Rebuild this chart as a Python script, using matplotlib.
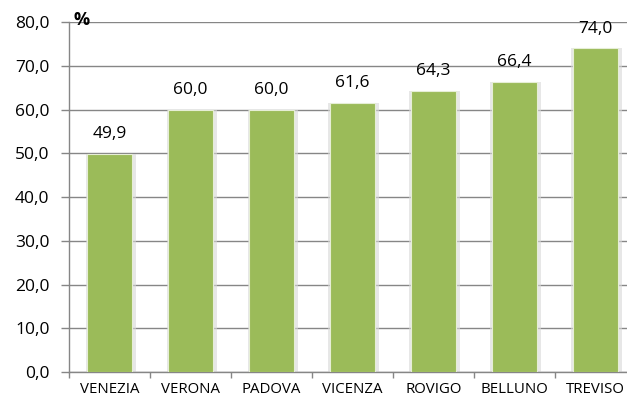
import matplotlib
matplotlib.use("Agg")
import matplotlib.pyplot as plt
import numpy as np

province = ["VENEZIA", "VERONA", "PADOVA", "VICENZA", "ROVIGO", "BELLUNO", "TREVISO"]
valori = [49.9, 60.0, 60.0, 61.6, 64.3, 66.4, 74.0]
yticks = [0, 10, 20, 30, 40, 50, 60, 70, 80]

plt.rcParams['font.family'] = ['Open Sans', 'DejaVu Sans']

fig = plt.figure(figsize=(6.27, 4.04), dpi=100)
ax = fig.add_axes([0.110, 0.079, 0.904, 0.8665])

x = np.arange(len(province))
# soft shadow behind the bars
ax.bar(x + 0.015, valori, width=0.62, color="#d8d8d8", alpha=0.6, zorder=2)
ax.bar(x, valori, width=0.55, color="#9BBB59", edgecolor="#e6eed6", linewidth=0.8, zorder=3)

for xi, v in zip(x, valori):
    ax.text(xi, v + 2.6, f"{v:.1f}".replace(".", ","), ha="center", va="bottom", fontsize=12.5)

ax.set_xlim(-0.5, 6.5)
ax.set_ylim(0, 80)
ax.set_yticks(yticks)
ax.set_yticklabels([f"{t},0" for t in yticks], fontsize=12.5)
ax.set_xticks(x)
ax.set_xticklabels(province, fontsize=10.8)
ax.tick_params(axis="x", length=0, pad=7)
ax.set_xticks(np.arange(-0.5, 7, 1), minor=True)
ax.tick_params(axis="x", which="minor", length=4, color="#868686", width=1)
ax.tick_params(axis="y", length=6, color="#868686", width=1, pad=8)

ax.yaxis.grid(True, color="#868686", linewidth=1)
ax.set_axisbelow(True)
for s in ["top", "right"]:
    ax.spines[s].set_visible(False)
ax.spines["left"].set_color("#868686")
ax.spines["bottom"].set_color("#868686")
ax.spines["left"].set_linewidth(1)
ax.spines["bottom"].set_linewidth(1)

ax.text(0.008, 78.4, "%", fontsize=13, fontweight="bold", ha="left", va="bottom",
        transform=ax.get_yaxis_transform())

fig.savefig("out.png", dpi=100)
